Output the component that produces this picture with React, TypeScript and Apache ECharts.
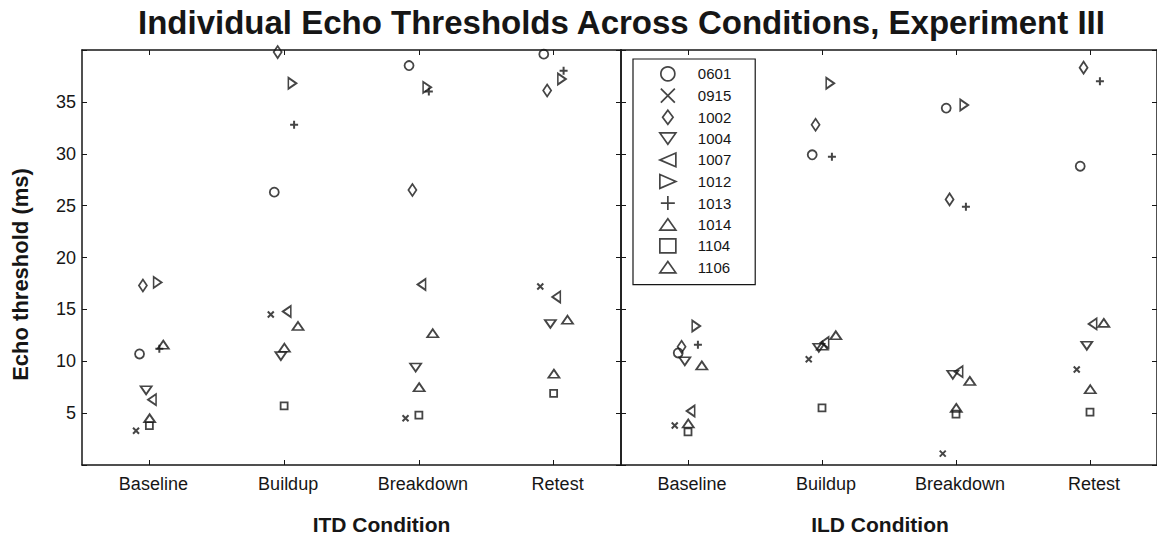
import React, { useEffect, useRef } from "react";
import * as echarts from "echarts";

// ---------- data ----------
const categories = ["Baseline", "Buildup", "Breakdown", "Retest"];
const subjects = ["0601", "0915", "1002", "1004", "1007", "1012", "1013", "1014", "1104", "1106"];
// per-subject horizontal jitter (category units)
const jitter = [-0.073, -0.099, -0.048, -0.024, 0.02, 0.061, 0.074, 0.103, 0, 0.002];
const yTickValues = [5, 10, 15, 20, 25, 30, 35];

// Echo thresholds (ms), rows follow `subjects`, columns follow `categories`
const itdThresholds: (number | null)[][] = [
  [10.7, 26.3, 38.5, 39.6], // 0601
  [3.3, 14.5, 4.5, 17.2], // 0915
  [17.3, 39.8, 26.5, 36.1], // 1002
  [7.2, 10.5, 9.4, 13.6], // 1004
  [6.3, 14.8, 17.4, 16.2], // 1007
  [17.6, 36.8, 36.4, 37.2], // 1012
  [11.2, 32.8, 36.0, 38.0], // 1013
  [11.6, 13.4, 12.7, 14.0], // 1014
  [3.8, 5.7, 4.8, 6.9], // 1104
  [4.5, 11.3, 7.5, 8.8], // 1106
];
const ildThresholds: (number | null)[][] = [
  [10.8, 29.9, 34.4, 28.8], // 0601
  [3.8, 10.2, 1.1, 9.2], // 0915
  [11.4, 32.8, 25.6, 38.3], // 1002
  [10.0, 11.3, 8.7, 11.5], // 1004
  [5.2, 11.8, 9.0, 13.6], // 1007
  [13.4, 36.8, 34.7, null], // 1012
  [11.6, 29.7, 24.9, 37.0], // 1013
  [9.6, 12.5, 8.1, 13.7], // 1014
  [3.2, 5.5, 4.9, 5.1], // 1104
  [4.0, 11.5, 5.5, 7.3], // 1106
];

const TITLE = "Individual Echo Thresholds Across Conditions, Experiment III";

// ---------- styles ----------
const INK = "#161616";
const FONT = "'Liberation Sans', Arial, Helvetica, sans-serif";
const PLUS = "path://M5 0L5 10M0 5L10 5";
const CROSS = "path://M0 0L10 10M0 10L10 0";

const markers: { symbol: string; size: number | number[]; rotate: number; width: number }[] = [
  { symbol: "circle", size: 9, rotate: 0, width: 1.8 },
  { symbol: CROSS, size: 6, rotate: 0, width: 2 },
  { symbol: "diamond", size: [8, 12], rotate: 0, width: 1.8 },
  { symbol: "triangle", size: [11, 8], rotate: 180, width: 1.8 },
  { symbol: "triangle", size: [11, 8], rotate: 90, width: 1.8 },
  { symbol: "triangle", size: [11, 8], rotate: -90, width: 1.8 },
  { symbol: PLUS, size: 8, rotate: 0, width: 2 },
  { symbol: "triangle", size: [11, 8], rotate: 0, width: 1.8 },
  { symbol: "rect", size: 7, rotate: 0, width: 1.8 },
  { symbol: "triangle", size: [11, 8], rotate: 0, width: 1.8 },
];

// legend icons (shape only, fitted into the legend icon box)
const legendIcons: (string | null)[] = [
  null,
  null,
  "path://M6 0L12 8L6 16L0 8Z",
  "path://M0 0L17 0L8.5 12Z",
  "path://M15 0L15 13L0 6.5Z",
  "path://M0 0L15 6.5L0 13Z",
  null,
  "path://M8.5 0L17 12L0 12Z",
  null,
  "path://M8.5 0L17 12L0 12Z",
];

const axisLine = { show: true, onZero: false, lineStyle: { color: INK, width: 1.5 } };
const tickIn = { show: true, inside: true, length: 5, lineStyle: { color: INK, width: 1 } };

function buildSeries() {
  const panels = [itdThresholds, ildThresholds];
  const out: any[] = [];
  panels.forEach((table, p) => {
    subjects.forEach((name, s) => {
      const m = markers[s];
      const data: number[][] = [];
      table[s].forEach((v, i) => {
        if (v != null) data.push([i + 1 + jitter[s], v]);
      });
      out.push({
        type: "scatter",
        name,
        xAxisIndex: p * 3 + 2,
        yAxisIndex: p * 2,
        data,
        symbol: m.symbol,
        symbolSize: m.size,
        symbolRotate: m.rotate,
        silent: true,
        itemStyle: { color: "transparent", borderColor: INK, borderWidth: m.width },
        z: 3,
      });
    });
  });
  return out;
}

function catAxis(grid: number, position: string, withLabels: boolean, name?: string, namePad?: number[]) {
  return {
    gridIndex: grid,
    type: "category",
    data: categories,
    position,
    axisLine,
    axisTick: { ...tickIn, alignWithLabel: true },
    splitLine: { show: false },
    axisLabel: withLabels
      ? { show: true, color: INK, fontSize: 18, fontFamily: FONT, margin: 10, padding: [0, 0, 0, 8] }
      : { show: false },
    name: name || "",
    nameLocation: "middle",
    nameGap: 49,
    nameTextStyle: { color: INK, fontSize: 21, fontWeight: "bold", fontFamily: FONT, padding: namePad || 0 },
  };
}

function valAxisX(grid: number) {
  return { gridIndex: grid, type: "value", min: 0.5, max: 4.5, show: false, position: "bottom" };
}

function yAx(grid: number, position: string, labels: boolean, name?: string) {
  return {
    gridIndex: grid,
    type: "value",
    min: 0,
    max: 40,
    interval: 5,
    position,
    axisLine,
    axisTick: tickIn,
    splitLine: { show: false },
    axisLabel: labels
      ? {
          show: true,
          color: INK,
          fontSize: 18,
          fontFamily: FONT,
          margin: 6,
          formatter: (v: number) => (yTickValues.indexOf(v) >= 0 ? String(v) : ""),
        }
      : { show: false },
    name: name || "",
    nameLocation: "middle",
    nameGap: 51,
    nameTextStyle: { color: INK, fontSize: 22, fontWeight: "bold", fontFamily: FONT, padding: [0, 34, 0, 0] },
  };
}

function measure(text: string, font: string): number {
  const c = document.createElement("canvas").getContext("2d");
  if (!c) return 960;
  c.font = font;
  return c.measureText(text).width;
}

export default function App() {
  const ref = useRef<HTMLDivElement>(null);
  useEffect(() => {
    document.body.style.margin = "0";
    if (!ref.current) return;
    const chart = echarts.init(ref.current, undefined, { renderer: "svg" });
    const titleSize = 33;
    const titleW = measure(TITLE, `bold ${titleSize}px ${FONT}`);
    chart.setOption({
      animation: false,
      backgroundColor: "#ffffff",
      title: {
        text: TITLE,
        left: Math.round(622 - titleW / 2),
        top: 6,
        padding: 0,
        textStyle: { color: INK, fontSize: titleSize, fontWeight: "bold", fontFamily: FONT },
      },
      grid: [
        { left: 82, top: 50, width: 539, height: 424 },
        { left: 621, top: 50, width: 538, height: 424 },
      ],
      xAxis: [
        catAxis(0, "bottom", true, "ITD Condition", [0, 0, 0, 60]),
        catAxis(0, "top", false),
        valAxisX(0),
        catAxis(1, "bottom", true, "ILD Condition", [0, 18, 0, 0]),
        catAxis(1, "top", false),
        valAxisX(1),
      ],
      yAxis: [
        yAx(0, "left", true, "Echo threshold (ms)"),
        yAx(0, "right", false),
        yAx(1, "left", false),
        yAx(1, "right", false),
      ],
      legend: {
        orient: "vertical",
        left: 633,
        top: 59,
        padding: [7, 24, 10, 26],
        itemWidth: 16,
        itemHeight: 14,
        itemGap: 6,
        selectedMode: false,
        symbolRotate: 0,
        backgroundColor: "#ffffff",
        borderColor: INK,
        borderWidth: 1.2,
        itemStyle: { borderWidth: 1.7 },
        z: 10,
        data: subjects.map((n, i) => (legendIcons[i] ? { name: n, icon: legendIcons[i] } : { name: n })),
        formatter: (n: string) => `{t|${n}}`,
        textStyle: {
          color: INK,
          fontSize: 15,
          fontFamily: FONT,
          rich: { t: { fontSize: 15, fontFamily: FONT, color: INK, lineHeight: 15, padding: [0, 0, 0, 17] } },
        },
      },
      series: buildSeries(),
    });
    return () => chart.dispose();
  }, []);
  return (
    <div
      ref={ref}
      style={{ position: "absolute", left: 0, top: 0, width: 1157, height: 540 }}
    />
  );
}
